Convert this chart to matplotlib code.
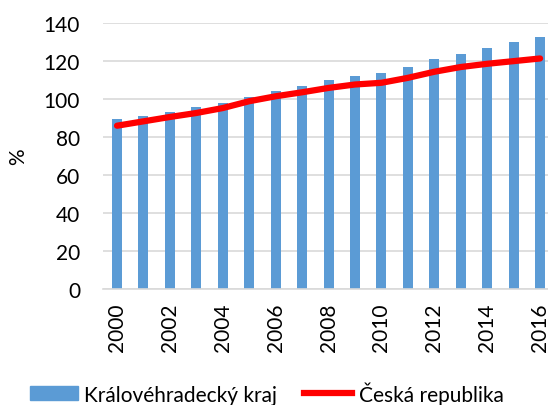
import matplotlib.pyplot as plt
from matplotlib.patches import Patch
from matplotlib.lines import Line2D

plt.rcParams['font.family'] = ['Lato', 'DejaVu Sans']

years = list(range(2000, 2017))
kraj = [89.4, 91.0, 93.3, 95.6, 97.9, 100.9, 104.0, 106.7, 110.0, 112.0,
        113.9, 116.9, 121.0, 123.9, 127.0, 130.0, 132.6]
cr = [85.9, 88.2, 90.5, 92.6, 95.2, 98.8, 101.4, 103.5, 105.8, 107.6,
      108.5, 111.1, 114.3, 116.8, 118.5, 119.9, 121.3]
tick_years = [str(y) for y in years[::2]]

fig = plt.figure(figsize=(5.48, 4.06), dpi=100)
ax = fig.add_axes([0.188, 0.286, 0.812, 0.655])

x = list(range(len(years)))
ax.bar(x, kraj, width=0.38, color='#5B9BD5', zorder=2)
ax.plot(x, cr, color='#FF0000', linewidth=4.5, solid_capstyle='round', zorder=3)

ax.set_ylim(0, 140)
ax.set_yticks(range(0, 141, 20))
ax.set_xlim(-0.53, 16.3)
ax.set_xticks(x[::2])
ax.set_xticklabels(tick_years, rotation=90)
ax.yaxis.grid(True, color='#d9d9d9', linewidth=1.2, zorder=0)
ax.set_axisbelow(True)
for s in ['top', 'right', 'left']:
    ax.spines[s].set_visible(False)
ax.spines['bottom'].set_color('#d9d9d9')
ax.spines['bottom'].set_linewidth(1.2)
ax.tick_params(length=0, labelsize=15, colors='black')
ax.tick_params(axis='x', pad=10)
ax.tick_params(axis='y', pad=16.5)
ax.set_ylabel('%', fontsize=15, labelpad=11)

handles = [Patch(color='#5B9BD5'), Line2D([0], [0], color='#FF0000', linewidth=4.5)]
fig.legend(handles, ['Královéhradecký kraj', 'Česká republika'],
           loc='center', bbox_to_anchor=(0.487, 0.03), ncol=2, frameon=False,
           fontsize=15, handlelength=2.3, handleheight=0.65, handletextpad=0.3,
           columnspacing=1.3, borderpad=0)

fig.savefig('out.png', dpi=100)
